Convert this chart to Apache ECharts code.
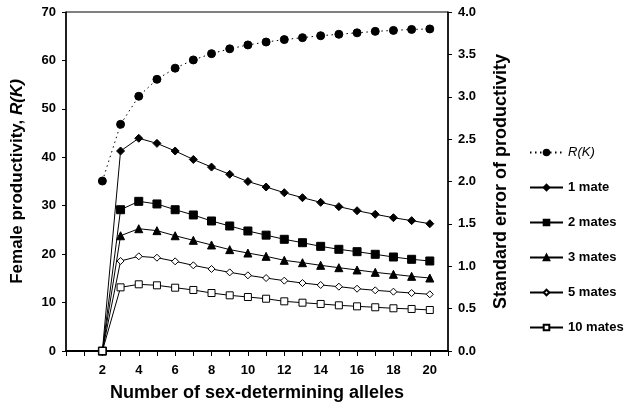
<!DOCTYPE html>
<html>
<head>
<meta charset="utf-8">
<script src="https://cdn.jsdelivr.net/npm/echarts@6/dist/echarts.min.js"></script>
<style>html,body{margin:0;padding:0;background:#fff}#c{width:627px;height:411px}</style>
</head>
<body>
<div id="c"></div>
<script>
const alleles = [2,3,4,5,6,7,8,9,10,11,12,13,14,15,16,17,18,19,20];
const productivityRK = [35.1,46.8,52.6,56.1,58.4,60.1,61.4,62.4,63.2,63.8,64.3,64.7,65.1,65.4,65.7,66.0,66.2,66.4,66.5];
const se1mate  = [0,2.36,2.51,2.45,2.36,2.26,2.17,2.085,2.00,1.935,1.868,1.809,1.754,1.703,1.655,1.613,1.573,1.538,1.502];
const se2mates = [0,1.667,1.766,1.735,1.667,1.605,1.534,1.475,1.416,1.367,1.318,1.278,1.235,1.200,1.172,1.141,1.109,1.082,1.062];
const se3mates = [0,1.36,1.443,1.42,1.36,1.306,1.251,1.196,1.156,1.117,1.07,1.042,1.011,0.983,0.956,0.928,0.905,0.881,0.861];
const se5mates = [0,1.062,1.117,1.101,1.058,1.011,0.968,0.928,0.893,0.861,0.83,0.802,0.779,0.759,0.735,0.716,0.70,0.684,0.669];
const se10mates= [0,0.751,0.787,0.775,0.747,0.72,0.684,0.657,0.637,0.617,0.586,0.57,0.555,0.539,0.527,0.516,0.504,0.496,0.484];
const leftTicks = [0,10,20,30,40,50,60,70];
const rightTicks = [0,0.5,1,1.5,2,2.5,3,3.5,4];

const FONT = "'Liberation Sans', Arial, sans-serif";
const pairs = arr => alleles.map((x,i)=>[x,arr[i]]);

function lineSeries(name, data, symbol, size, filled, yIndex, dotted){
  return {
    name, type:'line', yAxisIndex:yIndex, data:pairs(data),
    symbol, symbolSize:size, showSymbol:true,
    lineStyle:{color:'#000', width:1, type: dotted ? [1.5,3.5] : 'solid'},
    itemStyle:{color: filled ? '#000' : '#fff', borderColor:'#000', borderWidth:1},
    emphasis:{disabled:true}, animation:false, z: filled?3:4
  };
}

const chart = echarts.init(document.getElementById('c'));
chart.setOption({
  animation:false,
  grid:{left:66, right:179, top:12, bottom:60, show:true, borderColor:'#000', borderWidth:1},
  textStyle:{fontFamily:FONT},
  legend:{
    orient:'vertical', left:524, top:141, itemWidth:33, itemHeight:7, itemGap:22,
    textStyle:{fontFamily:FONT, fontSize:13, fontWeight:'bold', color:'#000',
      rich:{it:{fontStyle:'italic', fontWeight:'normal', fontSize:13, fontFamily:FONT, color:'#000'}}},
    formatter: n => n==='R(K)' ? '{it|R(K)}' : n,
    data:['R(K)','1 mate','2 mates','3 mates','5 mates','10 mates']
  },
  xAxis:{
    type:'value', min:0, max:21, interval:1,
    name:'Number of sex-determining alleles', nameLocation:'middle', nameGap:33,
    nameTextStyle:{fontFamily:FONT, fontSize:18, fontWeight:'bold', color:'#000'},
    axisLine:{lineStyle:{color:'#000', width:2}},
    axisTick:{show:true, length:5, lineStyle:{color:'#000', width:1}},
    axisLabel:{color:'#000', fontWeight:'bold', fontSize:13, fontFamily:FONT, margin:13,
      formatter: v => (v>0 && v%2===0) ? String(v) : ''},
    splitLine:{show:false}
  },
  yAxis:[{
    type:'value', min:leftTicks[0], max:leftTicks[leftTicks.length-1], interval:10,
    name:'{b|Female productivity, }{i|R(K)}', nameLocation:'middle', nameGap:40,
    nameTextStyle:{fontFamily:FONT, fontSize:17, fontWeight:'bold', color:'#000',
      rich:{b:{fontFamily:FONT, fontSize:17, fontWeight:'bold', color:'#000'},
            i:{fontFamily:FONT, fontSize:17, fontWeight:'bold', fontStyle:'italic', color:'#000'}}},
    axisLine:{show:true, lineStyle:{color:'#000', width:1.5}},
    axisTick:{show:true, length:4, lineStyle:{color:'#000'}},
    axisLabel:{color:'#000', fontWeight:'bold', fontSize:13, fontFamily:FONT, margin:10},
    splitLine:{show:false}
  },{
    type:'value', min:rightTicks[0], max:rightTicks[rightTicks.length-1], interval:0.5, position:'right',
    name:'Standard error of productivity', nameLocation:'middle', nameGap:44,
    nameTextStyle:{fontFamily:FONT, fontSize:18, fontWeight:'bold', color:'#000'},
    axisLine:{show:true, lineStyle:{color:'#000', width:1.5}},
    axisTick:{show:true, length:4, lineStyle:{color:'#000'}},
    axisLabel:{color:'#000', fontWeight:'bold', fontSize:13, fontFamily:FONT, margin:10,
      formatter: v => v.toFixed(1)},
    splitLine:{show:false}
  }],
  series:[
    lineSeries('R(K)', productivityRK, 'circle', 8, true, 0, true),
    lineSeries('1 mate', se1mate, 'diamond', 8, true, 1, false),
    lineSeries('2 mates', se2mates, 'rect', 8, true, 1, false),
    lineSeries('3 mates', se3mates, 'triangle', 8, true, 1, false),
    lineSeries('5 mates', se5mates, 'diamond', 7, false, 1, false),
    lineSeries('10 mates', se10mates, 'rect', 7, false, 1, false)
  ]
});
</script>
</body>
</html>
